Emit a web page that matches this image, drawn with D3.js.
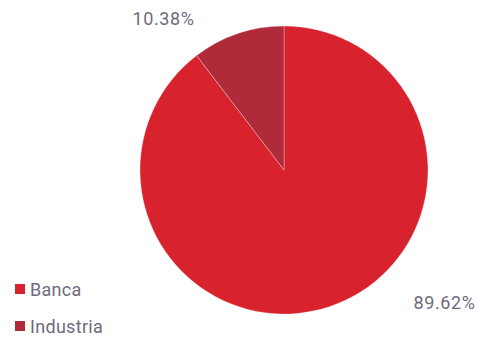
<!DOCTYPE html>
<html><head><meta charset="utf-8">
<script src="https://cdn.jsdelivr.net/npm/d3@7"></script>
<style>body{margin:0;background:#fff}svg{display:block}</style>
</head><body>
<svg id="c" width="478" height="337"></svg>
<script>
const categories = ["Banca", "Industria"];
const values = [89.62, 10.38];
const labels = ["89.62%", "10.38%"];
const colors = ["#D8232F", "#AF2B39"];

const svg = d3.select("#c");
const cx = 284, cy = 170, R = 144;
const g = svg.append("g").attr("transform", `translate(${cx},${cy})`);
const pie = d3.pie().sort(null);
const data = pie(values);
const arc = d3.arc().innerRadius(0).outerRadius(R);
g.selectAll("path").data(data).enter().append("path")
  .attr("d", arc).attr("fill", (d,i)=>colors[i])
  .attr("stroke", "#fff").attr("stroke-width", 0.3);

const font = "Roboto, sans-serif";
const textColor = "#6E6B7C";
// label placement
const labelPos = [[444.5, 309], [163.5, 25]];
svg.selectAll("text.lbl").data(labels).enter().append("text")
  .attr("class","lbl")
  .attr("x",(d,i)=>labelPos[i][0]).attr("y",(d,i)=>labelPos[i][1])
  .attr("text-anchor","middle")
  .attr("font-family",font).attr("font-size",18)
  .attr("letter-spacing",0.6)
  .attr("fill",textColor).text(d=>d);

const leg = svg.append("g");
categories.forEach((c,i)=>{
  const y = 284 + i*37;
  leg.append("rect").attr("x",15).attr("y",y).attr("width",10).attr("height",10).attr("fill",colors[i]);
  leg.append("text").attr("x",30).attr("y",y+12).attr("font-family",font)
    .attr("font-size",18).attr("letter-spacing",0.3)
    .attr("fill",textColor).text(c);
});
</script>
</body></html>
